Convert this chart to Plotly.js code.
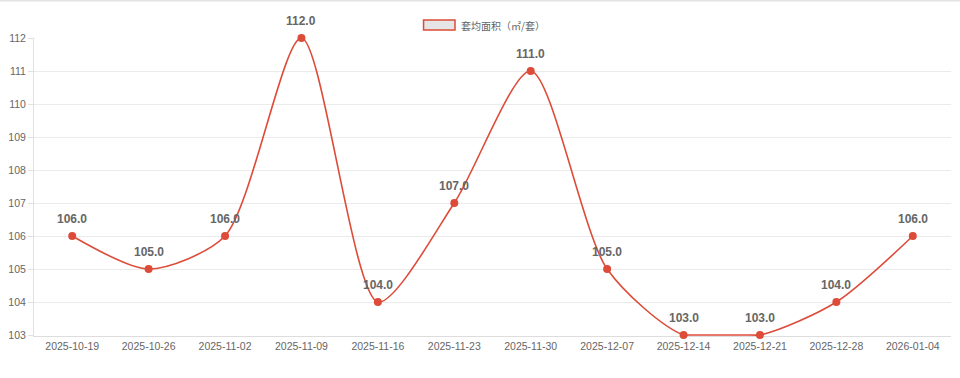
<!DOCTYPE html>
<html>
<head>
<meta charset="utf-8">
<script src="https://cdn.plot.ly/plotly-3.0.1.min.js"></script>
<style>html,body{margin:0;padding:0;background:#fff;}#chart{width:960px;height:378px;}</style>
</head>
<body>
<div id="chart"></div>
<script>
const categories = ["2025-10-19","2025-10-26","2025-11-02","2025-11-09","2025-11-16","2025-11-23","2025-11-30","2025-12-07","2025-12-14","2025-12-21","2025-12-28","2026-01-04"];
const avgArea = [106.0,105.0,106.0,112.0,104.0,107.0,111.0,105.0,103.0,103.0,104.0,106.0];
const seriesName = "套均面积（㎡/套）";
const yTicks = [103,104,105,106,107,108,109,110,111,112];

const red = "#dd4b39";
const trace = {
  type: "scatter",
  mode: "lines",
  x: categories,
  y: avgArea,
  name: seriesName,
  showlegend: false,
  line: {color: red, width: 1.6, shape: "spline", smoothing: 0.75},
  hoverinfo: "x+y"
};
// flat stretch between the two equal lows, drawn straight (as in the reference)
const flatTrace = {
  type: "scatter",
  mode: "lines",
  x: categories.slice(8, 10),
  y: avgArea.slice(8, 10),
  showlegend: false,
  line: {color: red, width: 1.6},
  hoverinfo: "skip"
};
const markerTrace = {
  type: "scatter",
  mode: "markers",
  x: categories,
  y: avgArea,
  showlegend: false,
  marker: {color: red, size: 8},
  cliponaxis: false,
  hoverinfo: "x+y"
};

const labelAnnotations = categories.map((c, i) => ({
  x: c, y: avgArea[i], xref: "x", yref: "y",
  text: avgArea[i].toFixed(1), showarrow: false,
  yanchor: "middle", xanchor: "center", yshift: 17,
  font: {family: "Liberation Sans, Arial, sans-serif", size: 12, color: "#666", weight: "bold"}
}));

const layout = {
  width: 960, height: 378,
  margin: {l: 34, r: 9, t: 38, b: 42},
  paper_bgcolor: "#fff", plot_bgcolor: "#fff",
  font: {family: "Liberation Sans, Arial, 'Noto Sans CJK SC', sans-serif", size: 11, color: "#666"},
  showlegend: false,
  xaxis: {
    type: "category",
    range: [-0.5, categories.length - 0.5],
    showgrid: false,
    showline: true, linecolor: "#ddd", linewidth: 1,
    ticks: "", tickfont: {size: 10.5, color: "#666"},
    zeroline: false, fixedrange: true, layer: "below traces"
  },
  yaxis: {
    range: [102.97, 112],
    tickvals: yTicks,
    showgrid: true, gridcolor: "#ebebeb", gridwidth: 1,
    showline: true, linecolor: "#e0e0e0", linewidth: 1,
    ticks: "outside", ticklen: 5, tickcolor: "#e0e0e0",
    tickfont: {size: 10.5, color: "#666"},
    zeroline: false, fixedrange: true, layer: "below traces"
  },
  shapes: [
    {type: "line", xref: "paper", yref: "paper", x0: -0.04, x1: 1.02, y0: 1.125, y1: 1.125, line: {color: "#e3e3e3", width: 1.5}},
    {type: "rect", xref: "paper", yref: "paper", x0: 0.4248, x1: 0.4591, y0: 1.027, y1: 1.060, fillcolor: "#e5e5e5", line: {color: red, width: 1.5}}
  ],
  annotations: labelAnnotations.concat([
    {xref: "paper", yref: "paper", x: 0.4635, y: 1.0435, xanchor: "left", yanchor: "middle", showarrow: false,
     text: seriesName, font: {family: "'Noto Sans CJK SC', sans-serif", size: 10, color: "#666"}}
  ])
};

Plotly.newPlot("chart", [trace, flatTrace, markerTrace], layout, {displayModeBar: false, staticPlot: true});
</script>
</body>
</html>
